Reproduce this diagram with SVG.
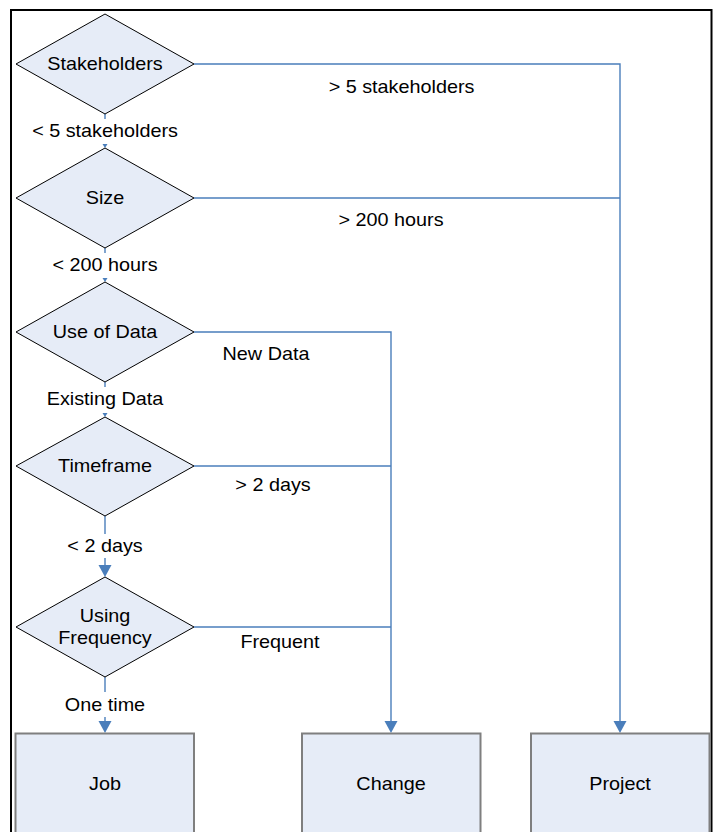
<svg xmlns="http://www.w3.org/2000/svg" width="714" height="832" viewBox="0 0 714 832">
  <style>
    .frame { fill: none; stroke: #000; stroke-width: 2; }
    .decision { fill: #E6ECF7; stroke: #000; stroke-width: 1; }
    .outcome { fill: #E6ECF7; stroke: #7F7F7F; stroke-width: 2; }
    .wire { fill: none; stroke: #4A7EBB; stroke-width: 1.4; }
    .head { fill: #4A7EBB; }
    text { font-family: "Liberation Sans", Arial, sans-serif; font-size: 18px; fill: #000; text-anchor: middle; }
  </style>

  <rect class="frame" x="11" y="10" width="700.5" height="900"/>

  <!-- connectors -->
  <g id="connectors">
    <!-- Stakeholders -> Size -->
    <line class="wire" x1="105" y1="114" x2="105" y2="119"/>
    <path class="head" d="M102.5,144 L107.5,144 L105,148 Z"/>
    <!-- Size -> Use of Data -->
    <line class="wire" x1="105" y1="248" x2="105" y2="253"/>
    <path class="head" d="M102.5,278 L107.5,278 L105,282 Z"/>
    <!-- Use of Data -> Timeframe -->
    <line class="wire" x1="105" y1="382" x2="105" y2="387"/>
    <path class="head" d="M102.5,413 L107.5,413 L105,417 Z"/>
    <!-- Timeframe -> Using Frequency -->
    <line class="wire" x1="105" y1="516" x2="105" y2="534"/>
    <line class="wire" x1="105" y1="558" x2="105" y2="566"/>
    <path class="head" d="M98.5,565 L111.5,565 L105,577 Z"/>
    <!-- Using Frequency -> Job -->
    <line class="wire" x1="105" y1="677" x2="105" y2="692"/>
    <line class="wire" x1="105" y1="717" x2="105" y2="722"/>
    <path class="head" d="M98.5,721 L111.5,721 L105,733 Z"/>
    <!-- branches to Project -->
    <polyline class="wire" points="194,64 620,64 620,722"/>
    <line class="wire" x1="194" y1="198" x2="620" y2="198"/>
    <path class="head" d="M613.5,721 L626.5,721 L620,733 Z"/>
    <!-- branches to Change -->
    <polyline class="wire" points="194,332 391,332 391,722"/>
    <line class="wire" x1="194" y1="466" x2="391" y2="466"/>
    <line class="wire" x1="194" y1="627" x2="391" y2="627"/>
    <path class="head" d="M384.5,721 L397.5,721 L391,733 Z"/>

    <!-- branch labels -->
    <text transform="translate(401.5 92.5) scale(1.1 1)">&gt; 5 stakeholders</text>
    <text transform="translate(105 137) scale(1.1 1)">&lt; 5 stakeholders</text>
    <text transform="translate(391 226) scale(1.1 1)">&gt; 200 hours</text>
    <text transform="translate(105 271) scale(1.1 1)">&lt; 200 hours</text>
    <text transform="translate(266 360) scale(1.1 1)">New Data</text>
    <text transform="translate(105 405) scale(1.1 1)">Existing Data</text>
    <text transform="translate(273 491) scale(1.1 1)">&gt; 2 days</text>
    <text transform="translate(105 552) scale(1.1 1)">&lt; 2 days</text>
    <text transform="translate(280 648) scale(1.1 1)">Frequent</text>
    <text transform="translate(105 711) scale(1.1 1)">One time</text>
  </g>

  <!-- decisions -->
  <g id="stakeholders">
    <polygon class="decision" points="105,14 194,64 105,114 16,64"/>
    <text transform="translate(105 70) scale(1.1 1)">Stakeholders</text>
  </g>
  <g id="size">
    <polygon class="decision" points="105,148 194,198 105,248 16,198"/>
    <text transform="translate(105 204) scale(1.1 1)">Size</text>
  </g>
  <g id="use-of-data">
    <polygon class="decision" points="105,282 194,332 105,382 16,332"/>
    <text transform="translate(105 338) scale(1.1 1)">Use of Data</text>
  </g>
  <g id="timeframe">
    <polygon class="decision" points="105,417 194,466 105,516 16,466"/>
    <text transform="translate(105 472) scale(1.1 1)">Timeframe</text>
  </g>
  <g id="using-frequency">
    <polygon class="decision" points="105,577 194,627 105,677 16,627"/>
    <text transform="translate(105 622) scale(1.1 1)">Using</text>
    <text transform="translate(105 644) scale(1.1 1)">Frequency</text>
  </g>

  <!-- outcomes -->
  <g id="job">
    <rect class="outcome" x="15.5" y="733.5" width="178.5" height="120"/>
    <text transform="translate(105 790) scale(1.1 1)">Job</text>
  </g>
  <g id="change">
    <rect class="outcome" x="302" y="733.5" width="178.5" height="120"/>
    <text transform="translate(391 790) scale(1.1 1)">Change</text>
  </g>
  <g id="project">
    <rect class="outcome" x="531" y="733.5" width="178.5" height="120"/>
    <text transform="translate(620 790) scale(1.1 1)">Project</text>
  </g>
</svg>
